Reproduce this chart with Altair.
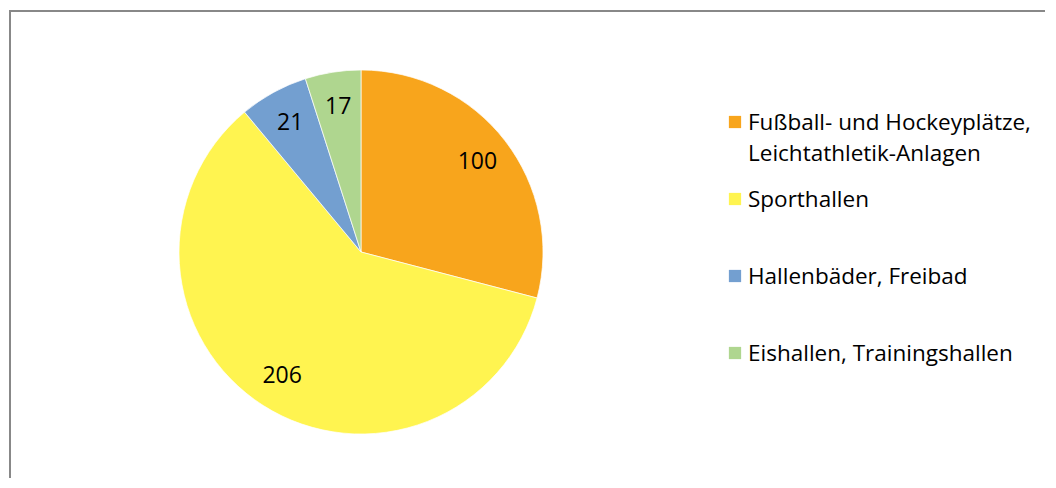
import altair as alt
import pandas as pd

categories = [
    "Fußball- und Hockeyplätze,\nLeichtathletik-Anlagen",
    "Sporthallen",
    "Hallenbäder, Freibad",
    "Eishallen, Trainingshallen",
]
values = [100, 206, 21, 17]
colors = ["#F8A51C", "#FFF450", "#739FD0", "#AFD68F"]

df = pd.DataFrame({"cat": categories, "value": values, "order": list(range(len(values)))})

W, H = 1036, 470
CX, CY = 352, 244
FONT = "Open Sans"

base = alt.Chart(df)
color = alt.Color("cat:N", scale=alt.Scale(domain=categories, range=colors), legend=None)
theta = alt.Theta("value:Q", stack=True)
order = alt.Order("order:Q")

pie = base.mark_arc(outerRadius=182, stroke="white", strokeWidth=0.7).encode(
    theta=theta, order=order, color=color, x=alt.value(CX), y=alt.value(CY)
)

labels = base.mark_text(radius=147, font=FONT, fontSize=23, color="black").encode(
    theta=theta, order=order, text="value:Q", x=alt.value(CX), y=alt.value(CY)
)

ly = alt.Y("cat:N", scale=alt.Scale(domain=categories, range=[114, 345], padding=0), axis=None)

squares = base.mark_point(shape="square", filled=True, size=150, opacity=1).encode(
    x=alt.value(726), y=ly, color=color
)

legend_text = base.mark_text(
    align="left", baseline="alphabetic", dy=8, lineBreak="\n", lineHeight=31,
    font=FONT, fontSize=22.5, color="black"
).encode(x=alt.value(739), y=ly, text="cat:N")

frame_data = alt.Data(values=[{}])
top_rule = alt.Chart(frame_data).mark_rule(color="#888888", strokeWidth=2).encode(
    x=alt.value(0), x2=alt.value(W), y=alt.value(3)
)
left_rule = alt.Chart(frame_data).mark_rule(color="#888888", strokeWidth=2).encode(
    x=alt.value(1), y=alt.value(2), y2=alt.value(H)
)

chart = alt.layer(pie, labels, squares, legend_text, top_rule, left_rule).properties(
    width=W, height=H, padding=0
).configure_view(stroke=None)

chart.save("out.html", embed_options={"renderer": "svg", "actions": False})
